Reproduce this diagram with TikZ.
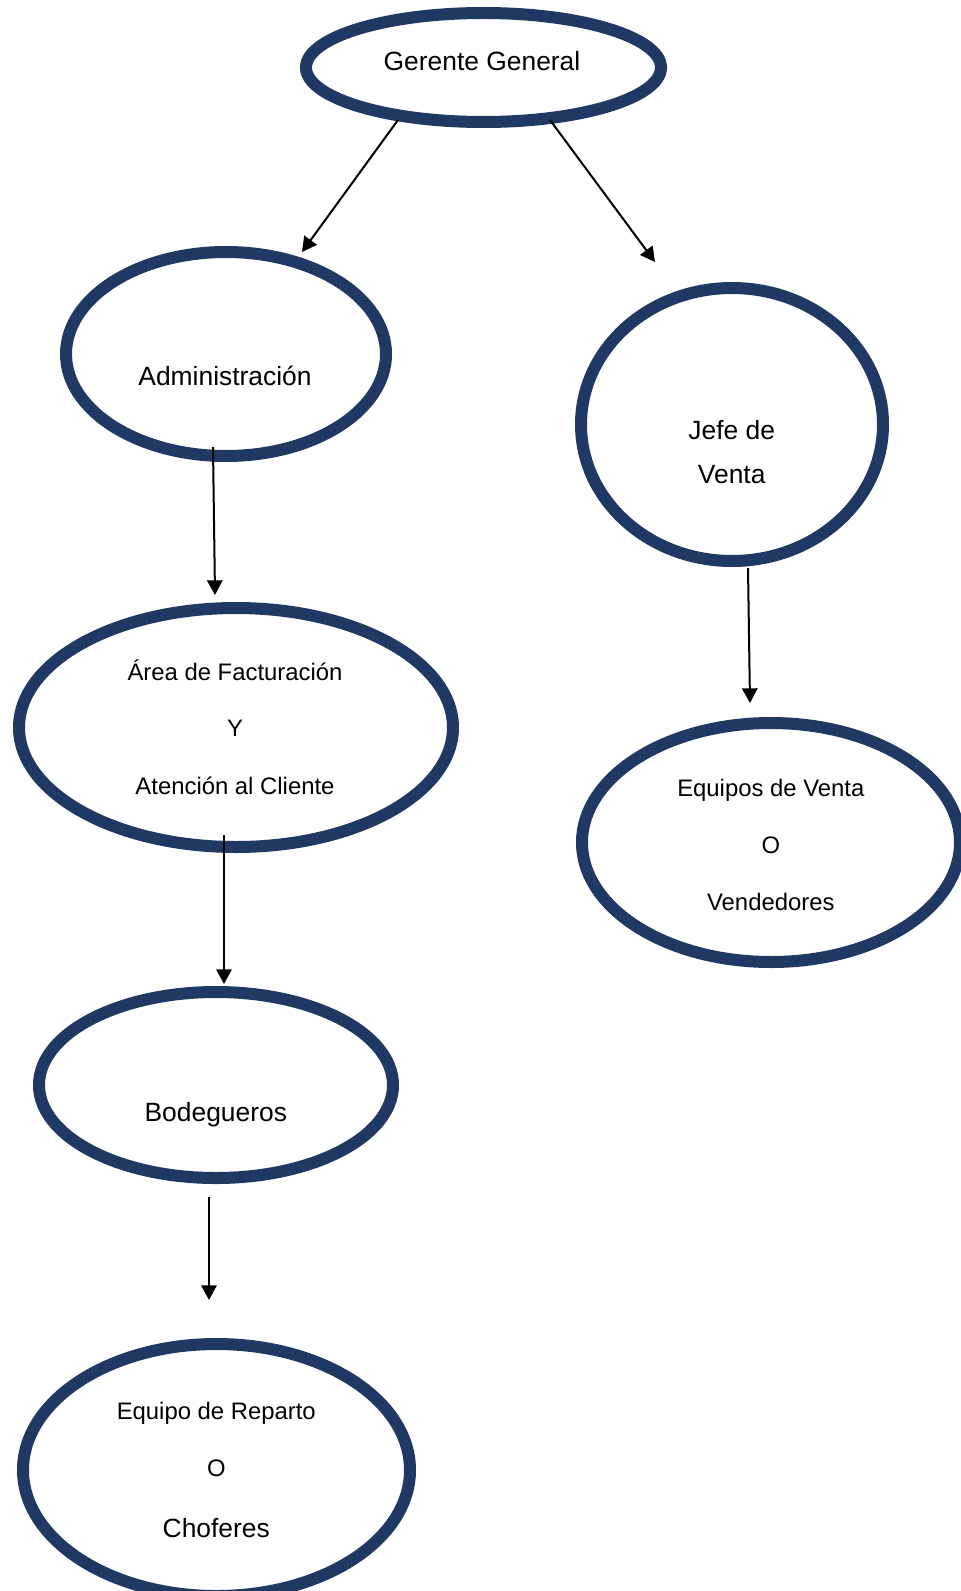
\documentclass[tikz,border=0pt]{standalone}
\usepackage{fontspec}
\setmainfont{Liberation Sans}
\usetikzlibrary{shapes.geometric,arrows.meta,calc}
\definecolor{navy}{RGB}{31,56,100}
\begin{document}
\begin{tikzpicture}[x=0.75pt,y=-0.75pt,
  oval/.style 2 args={draw=navy,fill=white,line width=9pt,ellipse,inner sep=0pt,minimum width={#1*0.75pt},minimum height={#2*0.75pt}},
  big/.style={anchor=base,font=\fontsize{19.8pt}{23pt}\selectfont,inner sep=0pt},
  small/.style={anchor=base,font=\fontsize{17.9pt}{21pt}\selectfont,inner sep=0pt},
  arr/.style={draw=black,line width=1.5pt,-{Triangle[length=11pt,width=11.5pt]}}]
\fill[white] (0,0) rectangle (960,1591);
\useasboundingbox (0,0) rectangle (960,1591);

\node[oval={355}{109}] (ger) at (483.5,67.5) {};
\node[oval={320}{204}] (adm) at (226,354) {};
\node[oval={302}{273}] (jefe) at (732,424.5) {};
\node[oval={434}{239}] (area) at (236,727.5) {};
\node[oval={378}{239}] (eqv) at (771,842.5) {};
\node[oval={354}{186}] (bod) at (216,1085) {};
\node[oval={387}{252}] (rep) at (216.5,1470) {};

\node[big] (tger) at (482,70.7) {Gerente General};
\node[big] (tadm) at (225,385) {Administración};
\node[big] (tjefe1) at (731.7,439.3) {Jefe de};
\node[big] (tjefe2) at (731.7,483.3) {Venta};
\node[small] (tarea1) at (235,680) {Área de Facturación};
\node[small] (tarea2) at (235,736.7) {Y};
\node[small] (tarea3) at (235,794) {Atención al Cliente};
\node[small] (teqv1) at (770.8,796.7) {Equipos de Venta};
\node[small] (teqv2) at (770.8,853.3) {O};
\node[small] (teqv3) at (770.8,910.7) {Vendedores};
\node[big] (tbod) at (215.8,1121.7) {Bodegueros};
\node[small] (trep1) at (216.3,1419.3) {Equipo de Reparto};
\node[small] (trep2) at (216.3,1476.7) {O};
\node[big] (trep3) at (216.3,1537.3) {Choferes};

\draw[arr] ($(ger.center)+(-85.5,52.5)$) -- ($(adm.center)+(76,-102)$);
\draw[arr] ($(ger.center)+(66.5,52.5)$) -- ($(jefe.center)+(-77,-162.5)$);
\draw[arr] ($(adm.south)+(-13,-15)$) -- ($(area.north)+(-21,-7)$);
\draw[arr] ($(area.south)+(-12,-18)$) -- ($(bod.north)+(8,-2)$);
\draw[arr] ($(jefe.south)+(16,1)$) -- ($(eqv.north)+(-21,-14)$);
\draw[arr] ($(bod.south)+(-7,13)$) -- ($(rep.north)+(-7.5,-38)$);
\end{tikzpicture}
\end{document}
